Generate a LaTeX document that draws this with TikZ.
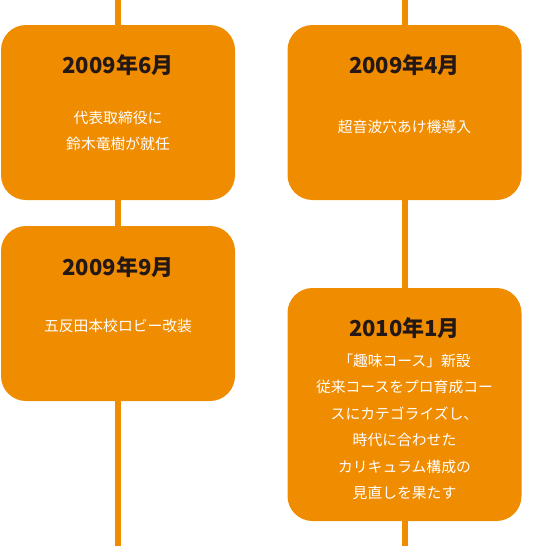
\documentclass[tikz,border=0pt]{standalone}
\usepackage{fontspec}
\usepackage{xcolor}
\usepackage{tikz}
\usetikzlibrary{positioning}
\newfontfamily\jpfont{Noto Sans CJK JP}
\definecolor{steporange}{RGB}{240,140,0}
\definecolor{yeardark}{RGB}{35,24,21}

\begin{document}
\begin{tikzpicture}[
  x=1pt, y=-1pt,
  card/.style={
    fill=steporange,
    rounded corners=25pt,
    minimum width=234pt,
    inner sep=0pt
  },
  year/.style={
    text=yeardark,
    font=\jpfont\bfseries\fontsize{22}{24}\selectfont
  },
  note/.style={
    text=white,
    align=center,
    font=\jpfont\fontsize{14.8}{26.5}\selectfont
  },
  rail/.style={draw=steporange,line width=6pt}
]
\useasboundingbox (0,0) rectangle (557,546);

% timeline rails
\coordinate (ltop) at (118,0);
\coordinate (lbot) at (118,546);
\coordinate (rtop) at (404.5,0);
\coordinate (rbot) at (404.5,546);
\draw[rail] (ltop) -- (lbot);
\draw[rail] (rtop) -- (rbot);

% cards
\node[card,minimum height=175pt] (jun09) at (118,112.5) {};
\node[card,minimum height=175pt] (apr09) at (404.5,112.5) {};
\node[card,minimum height=175pt] (sep09) at (118,313.5) {};
\node[card,minimum height=233pt] (jan10) at (404.5,404.5) {};

\node[year] (jun09y) at ([yshift=-40pt]jun09.north) {2009年6月};
\node[year] (apr09y) at ([yshift=-40pt]apr09.north) {2009年4月};
\node[year] (sep09y) at ([yshift=-41pt]sep09.north) {2009年9月};
\node[year] (jan10y) at ([yshift=-40pt]jan10.north) {2010年1月};

\node[note] (jun09n) at ([yshift=-106pt]jun09.north) {代表取締役に\\鈴木竜樹が就任};
\node[note] (apr09n) at ([yshift=-102pt]apr09.north) {超音波穴あけ機導入};
\node[note] (sep09n) at ([yshift=-100pt]sep09.north) {五反田本校ロビー改装};
\node[note] (jan10n) at ([yshift=-139pt]jan10.north) {「趣味コース」新設\\従来コースをプロ育成コー\\スにカテゴライズし、\\時代に合わせた\\カリキュラム構成の\\見直しを果たす};
\end{tikzpicture}
\end{document}
